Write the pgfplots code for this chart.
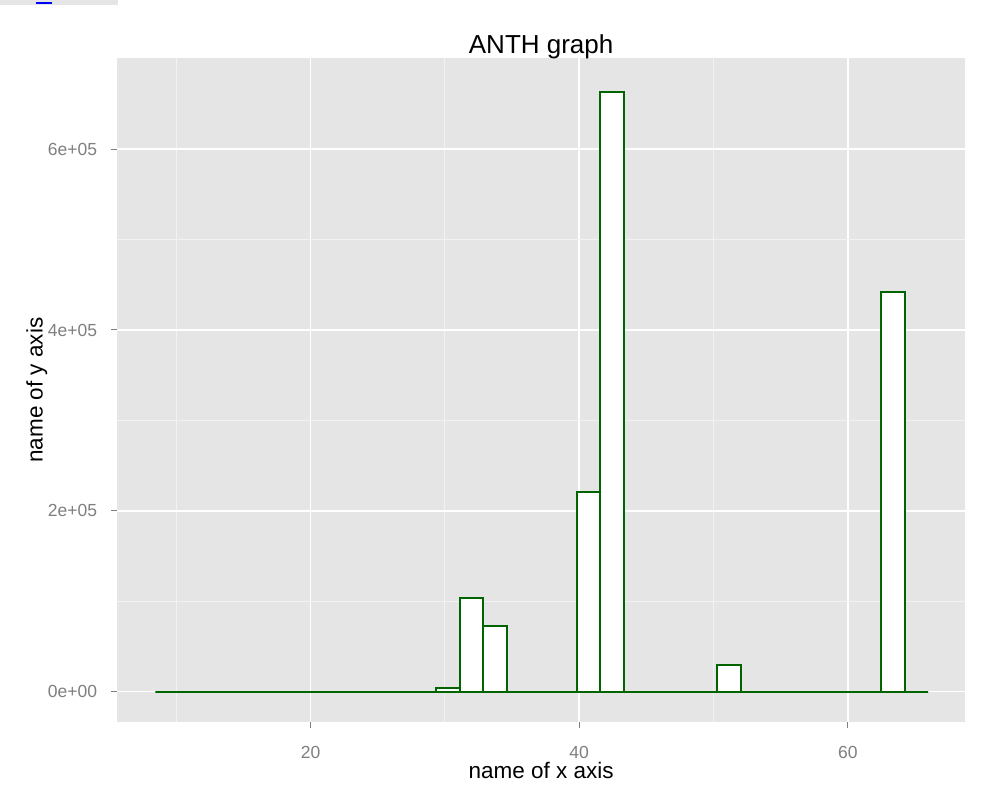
\documentclass[border=0pt]{standalone}
\usepackage{pgfplots}
\pgfplotsset{compat=1.18}
\usepackage{fontspec}
\setmainfont{Liberation Sans}
\definecolor{panelgray}{HTML}{E5E5E5}
\definecolor{minorgrid}{HTML}{F2F2F2}
\definecolor{ticklab}{HTML}{7F7F7F}
\definecolor{dkgreen}{HTML}{006400}
\begin{document}
\begin{tikzpicture}[x=1pt,y=1pt]
\useasboundingbox (-117.3,-69.3) rectangle (876.7,721.7);
\fill[panelgray] (-117.3,716.7) rectangle (0.7,721.7);
\fill[blue] (-81.3,717.2) rectangle (-65.3,719.2);
\begin{axis}[
  at={(0,0)}, anchor=south west,
  scale only axis,
  width=847.7pt, height=663.2pt,
  xmin=5.61, xmax=68.73,
  ymin=-33400, ymax=700400,
  axis background/.style={fill=panelgray},
  axis line style={draw=none},
  tick pos=left,
  tick align=outside,
  major tick length=6pt,
  minor tick length=0pt,
  tick style={color=ticklab, line width=1pt},
  xtick={20,40,60}, xticklabels={20,40,60},
  ytick={0,200000,400000,600000},
  yticklabels={0e+00,2e+05,4e+05,6e+05},
  scaled y ticks=false,
  minor xtick={10,30,50},
  minor ytick={100000,300000,500000},
  grid=both,
  major grid style={color=white, line width=1.6pt},
  minor grid style={color=minorgrid, line width=0.9pt},
  ticklabel style={font=\fontsize{17.5}{20}\selectfont, text=ticklab, inner sep=0pt},
  xticklabel style={anchor=north, yshift=-18pt},
  yticklabel style={anchor=east, xshift=-14pt},
  every axis title shift=0pt,
  title={ANTH graph},
  title style={font=\fontsize{26}{29}\selectfont, at={(axis description cs:0.5,1.0078)}, anchor=base, inner sep=0pt},
  xlabel={name of x axis},
  xlabel style={font=\fontsize{22.5}{26}\selectfont, at={(axis description cs:0.5,-0.0858)}, anchor=base, inner sep=0pt},
  ylabel={name of y axis},
  ylabel style={font=\fontsize{22.5}{26}\selectfont, at={(axis description cs:-0.0880,0.5)}, rotate=0, anchor=base, inner sep=0pt},
]
\addplot[ybar interval, fill=white, draw=dkgreen, line width=2pt] coordinates {
(8.440,0) (10.184,0) (11.928,0) (13.672,0) (15.416,0) (17.160,0)
(18.904,0) (20.648,0) (22.392,0) (24.136,0) (25.880,0) (27.624,0)
(29.368,4400) (31.112,103500) (32.856,72000) (34.600,0) (36.344,0)
(38.088,0) (39.832,221000) (41.576,663000) (43.320,0) (45.064,0)
(46.808,0) (48.552,0) (50.296,29000) (52.040,0) (53.784,0) (55.528,0)
(57.272,0) (59.016,0) (60.760,0) (62.504,442000) (64.248,0) (65.992,0)
};
\end{axis}
\end{tikzpicture}
\end{document}
